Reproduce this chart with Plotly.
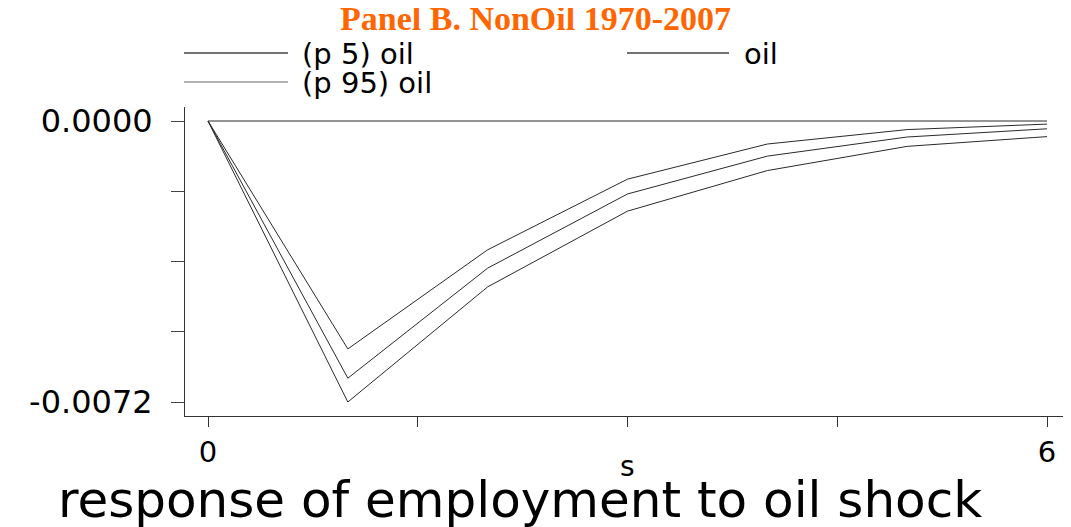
import plotly.graph_objects as go

# ---- data ----
s = [0, 1, 2, 3, 4, 5, 6]
p95_oil = [0.0, -0.00584, -0.00330, -0.00149, -0.00059, -0.00022, -0.00008]
oil = [0.0, -0.00659, -0.00377, -0.00187, -0.00090, -0.00041, -0.00020]
p5_oil = [0.0, -0.00720, -0.00425, -0.00231, -0.00127, -0.00065, -0.00040]
zero_line = [0.0, 0.0, 0.0, 0.0, 0.0, 0.0, 0.0]

y_tickvals = [0.0, -0.0018, -0.0036, -0.0054, -0.0072]
y_ticktext = ["0.0000", "", "", "", "-0.0072"]
x_tickvals = [0, 1.5, 3, 4.5, 6]
x_ticktext = ["0", "", "", "", "6"]

title_text = "Panel B. NonOil 1970-2007"
caption_text = "response of employment to oil shock"
xaxis_title = "s"
legend_items = [("(p 5) oil", "#444444", 0), ("oil", "#444444", 1), ("(p 95) oil", "#999999", 2)]

# page body has an 8px margin: size the figure so it ends at the window edge
OFF = 8
W, H = 1071 - OFF, 527 - OFF
ML, MR, MT, MB = 185 - OFF, 0, 107 - OFF, 111
PW, PH = W - ML - MR, H - MT - MB


def px(xs):
    return (xs - OFF - ML) / PW


def py(ys):
    return (H - MB - (ys - OFF)) / PH


LINE_COL = "#2a2a2a"
fig = go.Figure()
fig.add_trace(go.Scatter(x=s, y=zero_line, mode="lines", line=dict(color=LINE_COL, width=1),
                         showlegend=False, hoverinfo="skip"))
fig.add_trace(go.Scatter(x=s, y=p5_oil, mode="lines", name="(p 5) oil",
                         line=dict(color=LINE_COL, width=1), showlegend=False))
fig.add_trace(go.Scatter(x=s, y=oil, mode="lines", name="oil",
                         line=dict(color=LINE_COL, width=1), showlegend=False))
fig.add_trace(go.Scatter(x=s, y=p95_oil, mode="lines", name="(p 95) oil",
                         line=dict(color=LINE_COL, width=1), showlegend=False))

# x: 0 at screen px 208, 6 at 1047
ux = (1047 - 208) / 6.0
x0 = -(208 - 185) / ux
x1 = x0 + PW / ux
# y: 0 at screen px 121, -0.0072 at 402
uy = 281 / 0.0072
y1 = (121 - 107) / uy
y0 = y1 - PH / uy

sans = "DejaVu Sans"

fig.update_layout(
    width=W, height=H,
    margin=dict(l=ML, r=MR, t=MT, b=MB),
    paper_bgcolor="white", plot_bgcolor="white",
    showlegend=False,
    xaxis=dict(range=[x0, x1], showgrid=False, zeroline=False, showline=True,
               linecolor="#333333", linewidth=1, ticks="outside", ticklen=10,
               tickcolor="#333333", tickvals=x_tickvals, ticktext=x_ticktext,
               tickfont=dict(family=sans, size=29, color="black")),
    yaxis=dict(range=[y0, y1], showgrid=False, zeroline=False, showline=True,
               linecolor="#333333", linewidth=1, ticks="outside", ticklen=13,
               tickcolor="#444444", tickvals=y_tickvals, ticktext=y_ticktext,
               tickfont=dict(family=sans, size=32, color="black"), ticklabelstandoff=12),
)

annotations = [
    dict(text="<b>" + title_text + "</b>", x=px(535), y=py(18), xref="paper", yref="paper",
         xanchor="center", yanchor="middle", showarrow=False,
         font=dict(family="Liberation Serif", size=34, color="#ff6600")),
    dict(text=xaxis_title, x=px(627), y=py(466), xref="paper", yref="paper",
         xanchor="center", yanchor="middle", showarrow=False,
         font=dict(family=sans, size=28, color="black")),
    dict(text=caption_text, x=px(520), y=py(500), xref="paper", yref="paper",
         xanchor="center", yanchor="middle", showarrow=False,
         font=dict(family=sans, size=50, color="black")),
]
shapes = []
legend_pos = {0: (184, 288, 300, 53), 1: (627, 729, 742, 53), 2: (184, 288, 300, 82)}
for label, col, k in legend_items:
    lx0, lx1, tx, ly = legend_pos[k]
    shapes.append(dict(type="line", xref="paper", yref="paper", x0=px(lx0), x1=px(lx1),
                       y0=py(ly), y1=py(ly), line=dict(color=col, width=1.5)))
    annotations.append(dict(text=label, x=px(tx), y=py(ly + 1), xref="paper", yref="paper",
                            xanchor="left", yanchor="middle", showarrow=False,
                            font=dict(family=sans, size=29, color="black")))

fig.update_layout(annotations=annotations, shapes=shapes)
fig.write_html("out.html")
